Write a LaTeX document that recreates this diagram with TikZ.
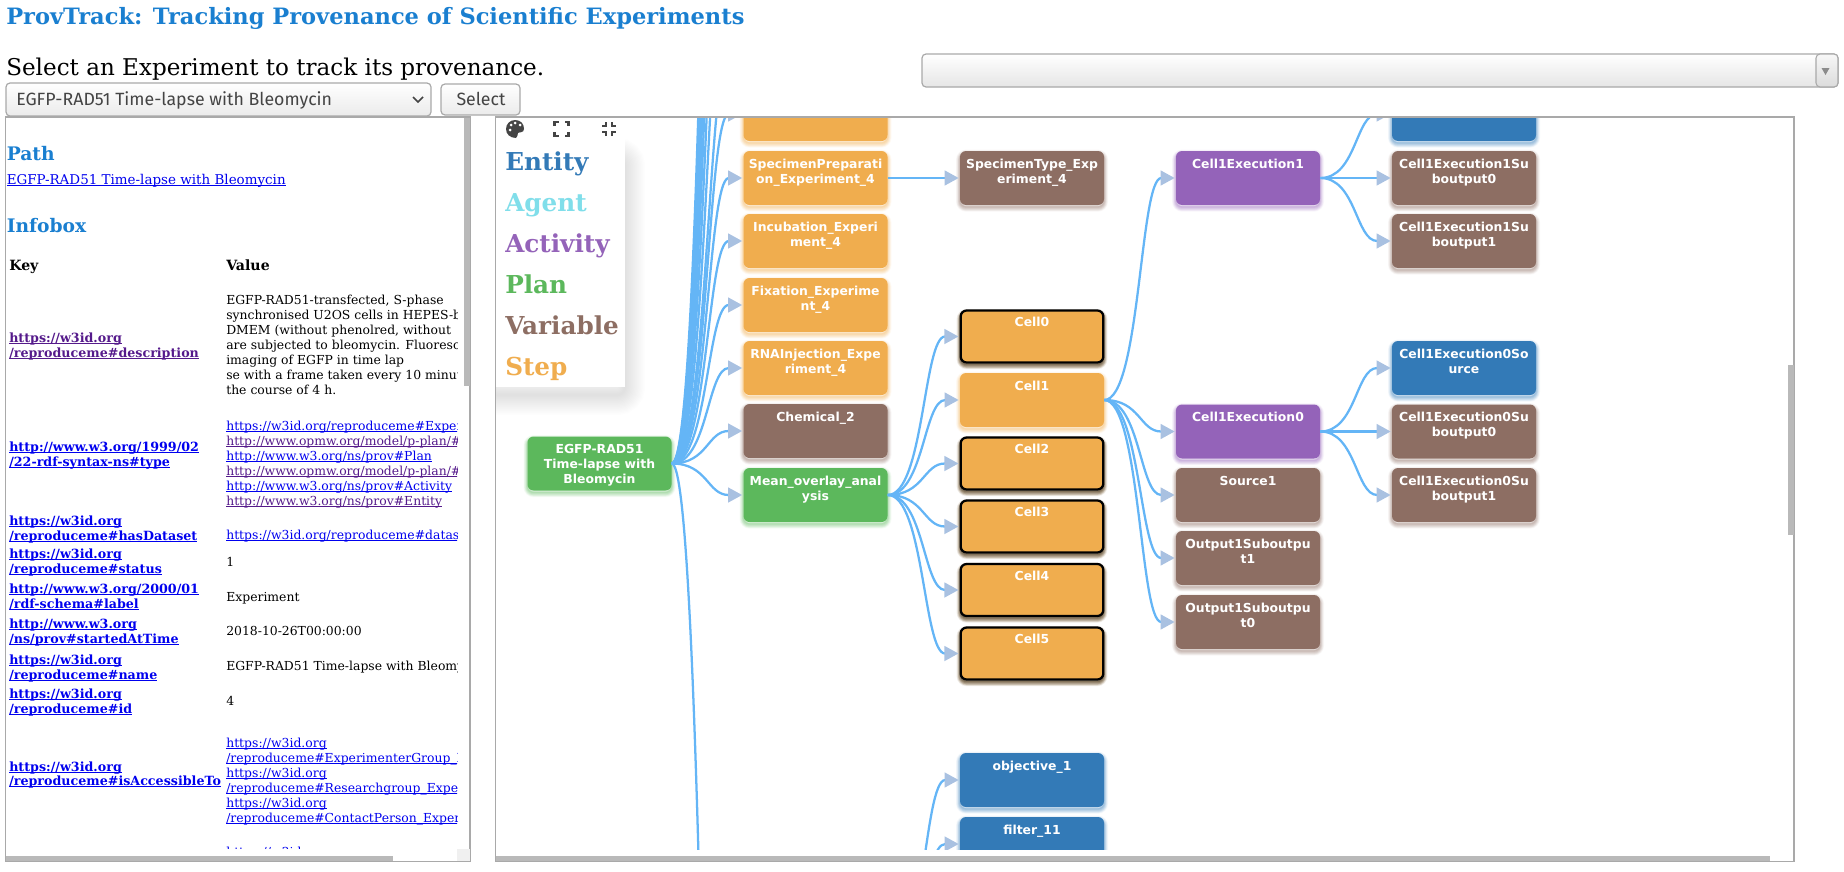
\documentclass[tikz,border=0pt]{standalone}
\usepackage{fontspec}
\setmainfont{DejaVu Serif}
\newfontfamily\dvsans{DejaVu Sans}
\newfontfamily\uifont{Fira Sans}
\usetikzlibrary{arrows.meta}
\definecolor{cOrange}{HTML}{F0AD4E}
\definecolor{cBrown}{HTML}{8D6E63}
\definecolor{cGreen}{HTML}{5CB85C}
\definecolor{cBlue}{HTML}{337AB7}
\definecolor{cPurple}{HTML}{9463B9}
\definecolor{cAgent}{HTML}{80DEEA}
\definecolor{cHead}{HTML}{1A7FD0}
\definecolor{cEdge}{HTML}{64B5F6}
\definecolor{cTip}{HTML}{A9C1E1}
\definecolor{cFrame}{HTML}{A9A9A9}
\definecolor{cBar}{HTML}{B9B9B9}
\definecolor{cLink}{HTML}{0000EE}
\definecolor{cSeen}{HTML}{551A8B}
\definecolor{cIcon}{HTML}{444444}
\newcommand\lbl[1]{\parbox[t][28.5pt][t]{107pt}{\centering\baselineskip=11.25pt\relax #1}}
\newcommand\lnk[1]{\setbox0=\hbox{#1}\rlap{\rule[-1.2pt]{\wd0}{.6pt}}\box0}
\tikzset{
  glow/.style={
    preaction={draw=#1,line width=6pt,opacity=.05,transform canvas={yshift=-2pt}},
    preaction={draw=#1,line width=5pt,opacity=.07,transform canvas={yshift=-2pt}},
    preaction={draw=#1,line width=4pt,opacity=.09,transform canvas={yshift=-2pt}},
    preaction={draw=#1,line width=3pt,opacity=.11,transform canvas={yshift=-2pt}},
    preaction={draw=#1,line width=2pt,opacity=.13,transform canvas={yshift=-1.8pt}},
    preaction={draw=#1,line width=1pt,opacity=.15,transform canvas={yshift=-1.5pt}}},
  nbox/.style={glow=#1,fill=#1,rounded corners=4.5pt,inner sep=0pt,minimum width=108pt,minimum height=40.5pt,
    text=white,font=\dvsans\bfseries\fontsize{9.3}{11.25}\selectfont},
  ringed/.style={draw=black,line width=1.7pt,minimum width=106.5pt,minimum height=39pt,glow=black},
  edge/.style={draw=cEdge,line width=1.7pt,shorten >=.8pt,
    -{Triangle[length=10.5pt,width=11pt,color=cTip]},
    to path={.. controls +(36,0) and +(-36,0) .. (\tikztotarget)}},
  frame/.style={draw=cFrame,line width=.9pt},
  bar/.style={fill=cBar,draw=none},
  txt/.style={anchor=base west,inner sep=0pt,font=\fontsize{9.3}{11}\selectfont},
  keytxt/.style={txt,font=\bfseries\fontsize{9.5}{11}\selectfont},
  headrow/.style={txt,font=\bfseries\fontsize{10.6}{12}\selectfont},
  head/.style={anchor=base west,inner sep=0pt,text=cHead,font=\bfseries\fontsize{14}{16}\selectfont},
  legendtxt/.style={anchor=base west,inner sep=0pt,font=\bfseries\fontsize{18.5}{22}\selectfont},
  iconline/.style={draw=cIcon,line width=1.8pt},
  ui/.style={inner sep=0pt,text=cIcon,font=\uifont\fontsize{13.3}{15}\selectfont},
  widget/.style={draw=cFrame,line width=.9pt,rounded corners=3pt,top color=white,bottom color=black!8}
}
\begin{document}
\begin{tikzpicture}[x=.75pt,y=-.75pt]
\useasboundingbox (0,0) rectangle (1844,871);
% page header
\node[anchor=base west,inner sep=0pt,text=cHead,font=\bfseries\fontsize{16.9}{18}\selectfont] (title) at (6,24) {ProvTrack: Tracking Provenance of Scientific Experiments};
\node[anchor=base west,inner sep=0pt,font=\fontsize{17.3}{20}\selectfont] (prompt) at (6,75) {Select an Experiment to track its provenance.};
% widgets
\path[widget] (6,83) rectangle (431,116);
\node[ui,anchor=base west] (seltext) at (16,105) {EGFP-RAD51 Time-lapse with Bleomycin};
\draw[draw=cIcon,line width=1.1pt] (413,97) -- (418,102) -- (423,97);
\path[widget] (441,84) rectangle (520,115);
\node[ui] (selbtn) at (481,99) {Select};
\path[draw=cFrame,line width=.9pt,rounded corners=3pt,top color=white,middle color=white,bottom color=black!10] (922,54) rectangle (1838,87);
\path[draw=cFrame,line width=.8pt,rounded corners=3pt,top color=black!3,bottom color=black!14] (1816,54) rectangle (1838,87);
\fill[black!45] (1821.5,68) -- (1829.5,68) -- (1825.5,75) -- cycle;
% left panel
\draw[frame] (5.5,117) rectangle (470,861.5);
\begin{scope}
\clip (6,118) rectangle (457,848);
\node[head] (h1) at (6.5,160) {Path};
\node[txt,text=cLink,font=\fontsize{10.1}{11}\selectfont] (p1) at (6.5,184) {\lnk{EGFP-RAD51 Time-lapse with Bleomycin}};
\node[head] (h2) at (6.5,232) {Infobox};
\node[headrow] (ka) at (9,270) {Key};
\node[headrow] (va) at (226,270) {Value};
\node[keytxt,text=cSeen] (k1a) at (9,342) {\lnk{https://w3id.org}};
\node[keytxt,text=cSeen] (k1b) at (9,357) {\lnk{/reproduceme\#description}};
\node[txt] (v1a) at (226,304) {EGFP-RAD51-transfected, S-phase};
\node[txt] (v1b) at (226,319) {synchronised U2OS cells in HEPES-buffered};
\node[txt] (v1c) at (226,334) {DMEM (without phenolred, without};
\node[txt] (v1d) at (226,349) {are subjected to bleomycin. Fluorescence};
\node[txt] (v1e) at (226,364) {imaging of EGFP in time lap};
\node[txt] (v1f) at (226,379) {se with a frame taken every 10 minutes};
\node[txt] (v1g) at (226,394) {the course of 4 h.};
\node[txt,text=cLink] (v2a) at (226,430) {\lnk{https://w3id.org/reproduceme\#Experiment}};
\node[txt,text=cSeen] (v2b) at (226,445) {\lnk{http://www.opmw.org/model/p-plan/\#Plan}};
\node[txt,text=cLink] (v2c) at (226,460) {\lnk{http://www.w3.org/ns/prov\#Plan}};
\node[txt,text=cSeen] (v2d) at (226,475) {\lnk{http://www.opmw.org/model/p-plan/\#Step}};
\node[txt,text=cLink] (v2e) at (226,490) {\lnk{http://www.w3.org/ns/prov\#Activity}};
\node[txt,text=cSeen] (v2f) at (226,505) {\lnk{http://www.w3.org/ns/prov\#Entity}};
\node[keytxt,text=cLink] (k2a) at (9,451) {\lnk{http://www.w3.org/1999/02}};
\node[keytxt,text=cLink] (k2b) at (9,466) {\lnk{/22-rdf-syntax-ns\#type}};
\node[keytxt,text=cLink] (k3a) at (9,525) {\lnk{https://w3id.org}};
\node[keytxt,text=cLink] (k3b) at (9,540) {\lnk{/reproduceme\#hasDataset}};
\node[txt,text=cLink] (v3) at (226,539) {\lnk{https://w3id.org/reproduceme\#dataset}};
\node[keytxt,text=cLink] (k4a) at (9,558) {\lnk{https://w3id.org}};
\node[keytxt,text=cLink] (k4b) at (9,573) {\lnk{/reproduceme\#status}};
\node[txt] (v4) at (226,566) {1};
\node[keytxt,text=cLink] (k5a) at (9,593) {\lnk{http://www.w3.org/2000/01}};
\node[keytxt,text=cLink] (k5b) at (9,608) {\lnk{/rdf-schema\#label}};
\node[txt] (v5) at (226,601) {Experiment};
\node[keytxt,text=cLink] (k6a) at (9,628) {\lnk{http://www.w3.org}};
\node[keytxt,text=cLink] (k6b) at (9,643) {\lnk{/ns/prov\#startedAtTime}};
\node[txt] (v6) at (226,635) {2018-10-26T00:00:00};
\node[keytxt,text=cLink] (k7a) at (9,664) {\lnk{https://w3id.org}};
\node[keytxt,text=cLink] (k7b) at (9,679) {\lnk{/reproduceme\#name}};
\node[txt] (v7) at (226,670) {EGFP-RAD51 Time-lapse with Bleomycin};
\node[keytxt,text=cLink] (k8a) at (9,698) {\lnk{https://w3id.org}};
\node[keytxt,text=cLink] (k8b) at (9,713) {\lnk{/reproduceme\#id}};
\node[txt] (v8) at (226,705) {4};
\node[keytxt,text=cLink] (k9a) at (9,771) {\lnk{https://w3id.org}};
\node[keytxt,text=cLink] (k9b) at (9,785) {\lnk{/reproduceme\#isAccessibleTo}};
\node[txt,text=cLink] (v9a) at (226,747) {\lnk{https://w3id.org}};
\node[txt,text=cLink] (v9b) at (226,762) {\lnk{/reproduceme\#ExperimenterGroup\_Experiment}};
\node[txt,text=cLink] (v9c) at (226,777) {\lnk{https://w3id.org}};
\node[txt,text=cLink] (v9d) at (226,792) {\lnk{/reproduceme\#Researchgroup\_Experiment}};
\node[txt,text=cLink] (v9e) at (226,807) {\lnk{https://w3id.org}};
\node[txt,text=cLink] (v9f) at (226,822) {\lnk{/reproduceme\#ContactPerson\_Experiment}};
\node[txt,text=cLink] (v9g) at (226,856) {\lnk{https://w3id.org}};
\end{scope}
\fill[bar] (464,118) rectangle (469.5,386);
\fill[bar] (6,856) rectangle (393,861);
\fill[black!6] (457,849) rectangle (469.5,861);
% graph panel
\begin{scope}
\clip (496,117.5) rectangle (1788,849);
% nodes
\node[nbox=cGreen] (root) at (599.5,463.5) {\lbl{EGFP-RAD51\\Time-lapse with\\Bleomycin}};
\node[nbox=cOrange] (top) at (815.5,114) {\lbl{\mbox{}\\iment\_4}};
\node[nbox=cOrange] (spec) at (815.5,178) {\lbl{SpecimenPreparati\\on\_Experiment\_4}};
\node[nbox=cOrange] (incu) at (815.5,241) {\lbl{Incubation\_Experi\\ment\_4}};
\node[nbox=cOrange] (fixa) at (815.5,305) {\lbl{Fixation\_Experime\\nt\_4}};
\node[nbox=cOrange] (rnai) at (815.5,368) {\lbl{RNAInjection\_Expe\\riment\_4}};
\node[nbox=cBrown] (chem) at (815.5,431) {\lbl{Chemical\_2}};
\node[nbox=cGreen] (mean) at (815.5,495) {\lbl{Mean\_overlay\_anal\\ysis}};
\node[nbox=cBrown] (type) at (1032,178) {\lbl{SpecimenType\_Exp\\eriment\_4}};
\node[nbox=cOrange,ringed] (c0) at (1032,336.5) {\lbl{Cell0}};
\node[nbox=cOrange] (c1) at (1032,400) {\lbl{Cell1}};
\node[nbox=cOrange,ringed] (c2) at (1032,463.5) {\lbl{Cell2}};
\node[nbox=cOrange,ringed] (c3) at (1032,526.5) {\lbl{Cell3}};
\node[nbox=cOrange,ringed] (c4) at (1032,590) {\lbl{Cell4}};
\node[nbox=cOrange,ringed] (c5) at (1032,653.5) {\lbl{Cell5}};
\node[nbox=cBlue] (obj) at (1032,780) {\lbl{objective\_1}};
\node[nbox=cBlue] (filt) at (1032,844) {\lbl{filter\_11}};
\node[nbox=cPurple] (ex1) at (1248,178) {\lbl{Cell1Execution1}};
\node[nbox=cPurple] (ex0) at (1248,431.5) {\lbl{Cell1Execution0}};
\node[nbox=cBrown] (src1) at (1248,495) {\lbl{Source1}};
\node[nbox=cBrown] (out1) at (1248,558) {\lbl{Output1Suboutpu\\t1}};
\node[nbox=cBrown] (out0) at (1248,622) {\lbl{Output1Suboutpu\\t0}};
\node[nbox=cBlue] (e1s) at (1464,114) {\lbl{\mbox{}\\urce}};
\node[nbox=cBrown] (e1a) at (1464,178) {\lbl{Cell1Execution1Su\\boutput0}};
\node[nbox=cBrown] (e1b) at (1464,241) {\lbl{Cell1Execution1Su\\boutput1}};
\node[nbox=cBlue] (e0s) at (1464,368) {\lbl{Cell1Execution0So\\urce}};
\node[nbox=cBrown] (e0a) at (1464,431.5) {\lbl{Cell1Execution0Su\\boutput0}};
\node[nbox=cBrown] (e0b) at (1464,495) {\lbl{Cell1Execution0Su\\boutput1}};
% off-screen ends
\coordinate (h1) at (744,50.6);
\coordinate (h2) at (744,-76);
\coordinate (h3) at (744,-203);
\coordinate (h4) at (744,-330);
\coordinate (h5) at (744,-457);
\coordinate (h6) at (744,-584);
\coordinate (h7) at (744,-711);
\coordinate (h8) at (744,-840);
\coordinate (hdown) at (744,1900);
\coordinate (hsrc) at (888,968);
% connectors
\foreach \t in {h1,h2,h3,h4,h5,h6,h7,h8,hdown}
  \draw[edge] (root.east) to (\t);
\foreach \t in {top,spec,incu,fixa,rnai,chem,mean}
  \draw[edge] (root.east) to (\t.west);
\draw[edge] (spec.east) to (type.west);
\foreach \t in {c0,c1,c2,c3,c4,c5}
  \draw[edge] (mean.east) to (\t.west);
\foreach \t in {ex1,ex0,src1,out1,out0}
  \draw[edge] (c1.east) to (\t.west);
\foreach \t in {e1s,e1a,e1b}
  \draw[edge] (ex1.east) to (\t.west);
\foreach \t in {e0s,e0a,e0b}
  \draw[edge] (ex0.east) to (\t.west);
\draw[edge] (hsrc) to (obj.west);
\draw[edge] (hsrc) to (filt.west);
% legend
\foreach \w in {2,4,...,30}
  \path[draw=black,line width=\w pt,opacity=.008,rounded corners=6pt,transform canvas={yshift=-6pt}] (490,150) rectangle (625,387);
\fill[white] (490,141) rectangle (625,387);
\node[legendtxt,text=cBlue] (l1) at (505,170) {Entity};
\node[legendtxt,text=cAgent] (l2) at (505,211) {Agent};
\node[legendtxt,text=cPurple] (l3) at (505,252) {Activity};
\node[legendtxt,text=cGreen] (l4) at (505,293) {Plan};
\node[legendtxt,text=cBrown] (l5) at (505,334) {Variable};
\node[legendtxt,text=cOrange] (l6) at (505,375) {Step};
% toolbar icons
\fill[white] (496,118) rectangle (625,141);
\fill[cIcon] (515,120) .. controls (521,120) and (524,124) .. (524,129) .. controls (524,133) and (519,132) .. (518,133) .. controls (516,135) and (519,137) .. (516,138) .. controls (510,138) and (506,134) .. (506,129) .. controls (506,124) and (510,120) .. (515,120) -- cycle;
\foreach \a/\b in {510/130,511/125,515/123,520/125}
  \fill[white] (\a,\b) circle[radius=1.5];
\foreach \sx/\sy in {-1/-1,1/-1,-1/1,1/1} {
  \draw[iconline] (561.5+7*\sx,129+3*\sy) -- (561.5+7*\sx,129+7*\sy) -- (561.5+3*\sx,129+7*\sy);
  \draw[iconline] (609+3*\sx,129+7*\sy) -- (609+3*\sx,129+3*\sy) -- (609+7*\sx,129+3*\sy);
}
\end{scope}
\draw[frame] (495.5,117) rectangle (1794,861.5);
\fill[bar] (1788,365) rectangle (1794,535);
\fill[bar] (496,856) rectangle (1770,861);
\end{tikzpicture}
\end{document}
